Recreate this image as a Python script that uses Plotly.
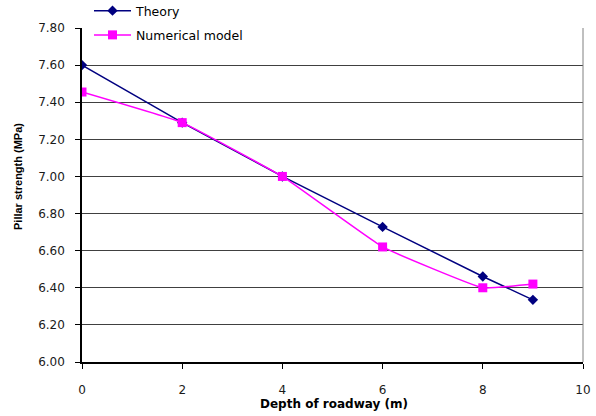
import plotly.graph_objects as go

depth = [0, 2, 4, 6, 8, 9]
theory = [7.60, 7.29, 7.00, 6.728, 6.461, 6.335]
numerical = [7.455, 7.29, 7.00, 6.62, 6.40, 6.42]

x_ticks = [0, 2, 4, 6, 8, 10]
y_ticks = [6.00, 6.20, 6.40, 6.60, 6.80, 7.00, 7.20, 7.40, 7.60, 7.80]
y_tick_labels = [f"{v:.2f}" for v in y_ticks]

W, H = 596, 416
L, R, B = 82, 13, 54
PLOT_TOP = 28  # pixel row of the top of the value axis

tick_font = dict(family="DejaVu Sans, sans-serif", size=12, color="#1a1a1a")

fig = go.Figure()
fig.add_trace(go.Scatter(
    x=depth, y=theory, name="Theory", mode="lines+markers",
    legendgroup="theory",
    line=dict(color="#000080", width=1.5),
    marker=dict(symbol="diamond", size=8, color="#000080"),
))
fig.add_trace(go.Scatter(
    x=depth, y=numerical, name="Numerical model", mode="lines+markers",
    legendgroup="numerical",
    line=dict(color="#FF00FF", width=1.5, shape="spline", smoothing=0.3),
    marker=dict(symbol="square", size=9, color="#FF00FF"),
))

# grey frame line on the right side of the plot area
fig.add_shape(type="line", xref="x domain", yref="y domain", x0=1, x1=1, y0=0, y1=1,
              line=dict(color="#808080", width=1))

plot_h = H - B
fig.add_annotation(
    text="<b>Pillar strength (MPa)</b>", textangle=-90, showarrow=False,
    xref="x domain", yref="y domain",
    x=(18 - L) / (W - L - R), y=(H - B - 177) / (plot_h - PLOT_TOP),
    xanchor="center", yanchor="middle",
    font=dict(family="Liberation Sans, Arial, sans-serif", size=11, color="#000000"),
)
fig.add_annotation(
    text="<b>Depth of roadway (m)</b>", showarrow=False,
    xref="x domain", yref="y domain",
    x=(334 - L) / (W - L - R), y=(H - B - 404) / (plot_h - PLOT_TOP),
    xanchor="center", yanchor="middle",
    font=dict(family="DejaVu Sans, sans-serif", size=12, color="#000000"),
)

fig.update_layout(
    width=W, height=H,
    margin=dict(l=L, r=R, t=0, b=B, autoexpand=False),
    paper_bgcolor="white", plot_bgcolor="white",
    font=dict(family="DejaVu Sans, sans-serif", size=12, color="#000000"),
    showlegend=True,
    legend=dict(
        xref="paper", yref="paper",
        x=(83 - L) / (W - L - R), y=1 + 4.0 / plot_h, xanchor="left", yanchor="top",
        bgcolor="white", borderwidth=0,
        font=dict(family="DejaVu Sans, sans-serif", size=12.5, color="#000000"),
        traceorder="grouped", tracegroupgap=5, indentation=6, itemwidth=37,
    ),
    xaxis=dict(
        range=[0, 10], tickvals=x_ticks, ticktext=[str(v) for v in x_ticks],
        showgrid=False, zeroline=False, automargin=False,
        showline=True, linecolor="#000000", linewidth=1.5,
        ticks="outside", ticklen=5, tickcolor="#000000",
        ticklabelstandoff=11,
        tickfont=tick_font,
    ),
    yaxis=dict(
        range=[6.0, 7.8], tickvals=y_ticks, ticktext=y_tick_labels,
        domain=[0, (plot_h - PLOT_TOP) / plot_h],
        showgrid=True, gridcolor="#404040", gridwidth=1, zeroline=False, automargin=False,
        showline=True, linecolor="#000000", linewidth=1.5,
        ticks="outside", ticklen=5, tickcolor="#000000",
        ticklabelstandoff=8,
        tickfont=tick_font,
    ),
)

fig.write_html("out.html")
